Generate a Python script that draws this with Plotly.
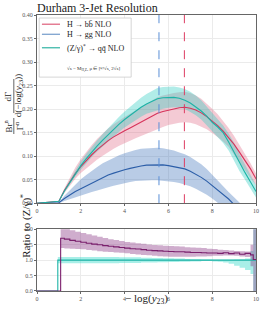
import plotly.graph_objects as go

# ---------------- data ----------------
x_top = [0.0, 1.0, 1.25, 1.5, 1.75, 2.0, 2.25, 2.5, 2.75, 3.0, 3.25, 3.5, 3.75, 4.0, 4.25,
         4.5, 4.75, 5.0, 5.25, 5.5, 5.75, 6.0, 6.25, 6.5, 6.75, 7.0, 7.25, 7.5, 7.75,
         8.0, 8.25, 8.5, 8.75, 9.0, 9.25, 9.5, 9.75, 10.0]

hbb_mid = [0.0, 0.004, 0.027, 0.046, 0.063, 0.078, 0.091, 0.103, 0.114, 0.124, 0.133, 0.141,
           0.148, 0.154, 0.160, 0.166, 0.172, 0.178, 0.185, 0.191, 0.195, 0.198, 0.201, 0.203,
           0.204, 0.202, 0.198, 0.192, 0.184, 0.175, 0.165, 0.153, 0.140, 0.125, 0.108, 0.091,
           0.073, 0.052]
hbb_hi = [0.0, 0.005, 0.032, 0.055, 0.076, 0.094, 0.110, 0.124, 0.137, 0.149, 0.159, 0.168,
          0.176, 0.183, 0.190, 0.197, 0.204, 0.211, 0.218, 0.225, 0.229, 0.232, 0.234, 0.236,
          0.237, 0.234, 0.229, 0.222, 0.212, 0.201, 0.189, 0.175, 0.160, 0.143, 0.124, 0.105,
          0.085, 0.063]
hbb_lo = [0.0, 0.003, 0.022, 0.038, 0.052, 0.064, 0.074, 0.084, 0.093, 0.101, 0.109, 0.116,
          0.122, 0.128, 0.133, 0.138, 0.143, 0.148, 0.153, 0.158, 0.162, 0.166, 0.169, 0.171,
          0.172, 0.171, 0.168, 0.163, 0.157, 0.149, 0.141, 0.131, 0.120, 0.103, 0.086, 0.070,
          0.053, 0.038]

hgg_mid = [0.0, 0.001, 0.010, 0.018, 0.025, 0.031, 0.037, 0.043, 0.049, 0.055, 0.060, 0.064,
           0.068, 0.071, 0.074, 0.077, 0.079, 0.081, 0.0815, 0.082, 0.0815, 0.080, 0.078, 0.076,
           0.073, 0.068, 0.062, 0.055, 0.047, 0.038, 0.029, 0.019, 0.009, -0.003, -0.015, -0.030,
           -0.045, -0.060]
hgg_hi = [0.0, 0.002, 0.016, 0.028, 0.040, 0.051, 0.060, 0.069, 0.077, 0.085, 0.091, 0.097,
          0.102, 0.106, 0.110, 0.113, 0.116, 0.117, 0.118, 0.118, 0.117, 0.115, 0.112, 0.108,
          0.104, 0.098, 0.091, 0.083, 0.073, 0.060, 0.048, 0.036, 0.024, 0.012, 0.002, -0.010,
          -0.020, -0.030]
hgg_lo = [0.0, 0.0, 0.005, 0.009, 0.013, 0.016, 0.020, 0.024, 0.027, 0.031, 0.034, 0.037,
          0.040, 0.043, 0.045, 0.047, 0.048, 0.049, 0.049, 0.049, 0.048, 0.047, 0.045, 0.043,
          0.040, 0.036, 0.031, 0.025, 0.018, 0.010, 0.002, -0.008, -0.020, -0.030, -0.040,
          -0.050, -0.060, -0.070]

zqq_mid = [0.0, 0.004, 0.026, 0.045, 0.064, 0.080, 0.095, 0.109, 0.122, 0.134, 0.146, 0.157,
           0.168, 0.178, 0.187, 0.196, 0.204, 0.211, 0.217, 0.222, 0.224, 0.225, 0.225, 0.223,
           0.219, 0.213, 0.205, 0.196, 0.185, 0.172, 0.162, 0.150, 0.130, 0.108, 0.085, 0.065,
           0.045, 0.025]
zqq_hi = [0.0, 0.005, 0.029, 0.050, 0.071, 0.089, 0.105, 0.120, 0.134, 0.147, 0.160, 0.172,
          0.184, 0.195, 0.205, 0.215, 0.224, 0.232, 0.239, 0.245, 0.247, 0.248, 0.248, 0.246,
          0.243, 0.237, 0.229, 0.219, 0.206, 0.192, 0.178, 0.165, 0.148, 0.128, 0.104, 0.083,
          0.062, 0.038]
zqq_lo = [0.0, 0.003, 0.023, 0.040, 0.057, 0.071, 0.085, 0.098, 0.110, 0.121, 0.132, 0.142,
          0.152, 0.161, 0.169, 0.177, 0.184, 0.190, 0.194, 0.198, 0.201, 0.203, 0.204, 0.203,
          0.200, 0.194, 0.187, 0.178, 0.166, 0.153, 0.141, 0.128, 0.112, 0.090, 0.068, 0.050,
          0.030, 0.012]

peak_x = [5.57, 6.73]           # Z peak (blue dashed), H->bb peak (red dashed)

# ratio panel
x_rat_hbb = [1.08, 1.25, 1.5, 1.75, 2.0, 2.25, 2.5, 2.75, 3.0, 3.25, 3.5, 3.75, 4.0, 4.25,
             4.5, 4.75, 5.0, 5.25, 5.5, 5.75, 6.0, 6.25, 6.5, 6.75, 7.0, 7.25, 7.5, 7.75,
             8.0, 8.25, 8.5, 8.75, 9.0, 9.25, 9.5, 9.75, 9.875, 10.0]
x_rat_z = [0.95, 1.25, 1.5, 1.75, 2.0, 2.25, 2.5, 2.75, 3.0, 3.25, 3.5, 3.75, 4.0, 4.25,
           4.5, 4.75, 5.0, 5.25, 5.5, 5.75, 6.0, 6.25, 6.5, 6.75, 7.0, 7.25, 7.5, 7.75,
           8.0, 8.25, 8.5, 8.75, 9.0, 9.25, 9.5, 9.75, 9.875, 10.0]
rat_hbb_mid = [1.71, 1.68, 1.64, 1.61, 1.58, 1.55, 1.52, 1.50, 1.47, 1.45, 1.43, 1.41, 1.39,
               1.37, 1.36, 1.34, 1.32, 1.31, 1.30, 1.29, 1.28, 1.27, 1.27, 1.26, 1.25, 1.25,
               1.24, 1.23, 1.23, 1.22, 1.24, 1.21, 1.23, 1.19, 1.22, 1.17, 1.02, 1.02]
rat_hbb_hi = [2.10, 2.03, 1.97, 1.92, 1.88, 1.84, 1.80, 1.76, 1.72, 1.68, 1.65, 1.62, 1.59,
              1.57, 1.55, 1.53, 1.51, 1.49, 1.48, 1.47, 1.46, 1.45, 1.44, 1.42, 1.41, 1.40,
              1.39, 1.37, 1.36, 1.34, 1.33, 1.31, 1.30, 1.29, 1.28, 1.50, 2.10, 2.10]
rat_hbb_lo = [1.39, 1.38, 1.37, 1.36, 1.35, 1.33, 1.31, 1.29, 1.27, 1.26, 1.25, 1.24, 1.22,
              1.20, 1.18, 1.17, 1.16, 1.14, 1.13, 1.12, 1.11, 1.11, 1.11, 1.11, 1.11, 1.12,
              1.12, 1.13, 1.14, 1.14, 1.15, 1.15, 1.14, 1.12, 1.10, 0.80, 0.00, 0.00]
rat_z_mid = [1.0] * 38
rat_z_hi = [1.10, 1.10, 1.10, 1.10, 1.10, 1.10, 1.10, 1.10, 1.10, 1.10, 1.10, 1.09, 1.09,
            1.09, 1.09, 1.08, 1.08, 1.07, 1.07, 1.06, 1.06, 1.05, 1.05, 1.04, 1.03, 1.03,
            1.02, 1.02, 1.01, 1.01, 1.01, 1.01, 1.02, 1.03, 1.05, 1.30, 2.10, 2.10]
rat_z_lo = [0.90, 0.90, 0.90, 0.90, 0.90, 0.90, 0.90, 0.90, 0.90, 0.90, 0.90, 0.91, 0.91,
            0.91, 0.91, 0.92, 0.92, 0.92, 0.93, 0.93, 0.94, 0.94, 0.95, 0.95, 0.96, 0.96,
            0.97, 0.97, 0.96, 0.95, 0.92, 0.88, 0.82, 0.75, 0.68, 0.55, 0.00, 0.00]

x_ticks = [0, 2, 4, 6, 8, 10]
labels = ["H → bb\u0304 NLO", "H → gg NLO", "(Z/γ)<sup>*</sup> → qq\u0304 NLO"]
note = "√s = M<sub>H,Z</sub>, μ ∈ [½√s, 2√s]"

# ---------------- styling ----------------
SERIF = "Liberation Serif"
RED, RED_F = "#d6335a", "rgba(222,90,120,0.32)"
BLUE, BLUE_F = "#2c5ea8", "rgba(70,120,190,0.38)"
TEAL, TEAL_F = "#1cb3a6", "rgba(50,205,195,0.38)"
PURP, PURP_F = "#7a1f6c", "rgba(140,60,135,0.42)"
TEAL_RF = "rgba(64,220,205,0.45)"

fig = go.Figure()


def band(x, lo, hi, fill, xa, ya, shape="linear"):
    fig.add_trace(go.Scatter(x=x, y=lo, mode="lines", line=dict(width=0, shape=shape),
                             xaxis=xa, yaxis=ya, showlegend=False, hoverinfo="skip"))
    fig.add_trace(go.Scatter(x=x, y=hi, mode="lines", line=dict(width=0, shape=shape),
                             fill="tonexty", fillcolor=fill, xaxis=xa, yaxis=ya,
                             showlegend=False, hoverinfo="skip"))


def line(x, y, color, xa, ya, shape="linear", width=1.1):
    fig.add_trace(go.Scatter(x=x, y=y, mode="lines", line=dict(color=color, width=width, shape=shape),
                             xaxis=xa, yaxis=ya, showlegend=False))


# top panel
band(x_top, hbb_lo, hbb_hi, RED_F, "x", "y")
band(x_top, hgg_lo, hgg_hi, BLUE_F, "x", "y")
band(x_top, zqq_lo, zqq_hi, TEAL_F, "x", "y")
line(x_top, hbb_mid, RED, "x", "y")
line(x_top, hgg_mid, BLUE, "x", "y")
line(x_top, zqq_mid, TEAL, "x", "y")
for px, c in zip(peak_x, ["#5a8fd6", "#dd3d62"]):
    fig.add_trace(go.Scatter(x=[px, px], y=[0, 0.4], mode="lines",
                             line=dict(color=c, width=1, dash="dash"),
                             xaxis="x", yaxis="y", showlegend=False))

# ratio panel
band(x_rat_z, rat_z_lo, rat_z_hi, TEAL_RF, "x2", "y2", "hv")
band(x_rat_hbb, rat_hbb_lo, rat_hbb_hi, PURP_F, "x2", "y2", "hv")
line([0.0] + x_rat_z, [0.0] + rat_z_mid, TEAL, "x2", "y2", "hv")
line([0.0, 0.95] + x_rat_hbb, [0.0, 0.0] + rat_hbb_mid, PURP, "x2", "y2", "hv")

axis_common = dict(showline=True, linecolor="#666666", linewidth=1, mirror=True,
                   showgrid=True, gridcolor="#ebebeb", gridwidth=1, zeroline=False,
                   ticks="outside", ticklen=2, tickcolor="#666666",
                   tickfont=dict(family=SERIF, size=6, color="#555555"))

fig.update_layout(
    width=266, height=318,
    margin=dict(l=37, r=7, t=15, b=27),
    paper_bgcolor="white", plot_bgcolor="white",
    font=dict(family=SERIF, color="#222222"),
    title=dict(text="Durham 3-Jet Resolution", font=dict(family=SERIF, size=12, color="#222222"),
               x=37 / 266, xanchor="left", y=1 - 8 / 318, yanchor="middle", xref="container",
               yref="container"),
    xaxis=dict(domain=[0, 1], range=[0, 10], tickvals=x_ticks, anchor="y", **axis_common),
    yaxis=dict(domain=[0.318, 1], range=[0, 0.40], dtick=0.05, tickformat=".2f", anchor="x",
               **axis_common),
    xaxis2=dict(domain=[0, 1], range=[0, 10], tickvals=x_ticks, anchor="y2", **axis_common),
    yaxis2=dict(domain=[0, 0.2236], range=[0, 2.0], dtick=0.5, tickformat=".1f", anchor="x2",
                **axis_common),
)

# legend (manual, compact)
fig.add_shape(type="rect", xref="x domain", yref="y domain", x0=0.01, x1=0.43, y0=0.67, y1=0.984,
              line=dict(color="#cccccc", width=0.8), fillcolor="white", layer="above")
leg_y = [0.951, 0.8975, 0.826]
leg_c = ["#e06a85", "#7ea3cf", "#3fb9aa"]
for yy, cc, lab in zip(leg_y, leg_c, labels):
    fig.add_shape(type="line", xref="x domain", yref="y domain", x0=0.0225, x1=0.105, y0=yy, y1=yy,
                  line=dict(color=cc, width=1.3), layer="above")
    fig.add_annotation(xref="x domain", yref="y domain", x=0.127, y=yy, text=lab, showarrow=False,
                       xanchor="left", yanchor="middle", font=dict(family=SERIF, size=8, color="#222222"))
fig.add_annotation(xref="x domain", yref="y domain", x=0.127, y=0.712, text=note, showarrow=False,
                   xanchor="left", yanchor="middle", font=dict(family=SERIF, size=5, color="#333333"))


def px_to_paper_x(px):
    return (px - 37) / 222.0


def py_to_paper_y(py):
    return (291 - py) / 276.0


# y-axis title of top panel: rotated fraction pieces
frac_parts = [("Br<sup>n</sup>", 8, 126), ("Γ<sup>n</sup>", 19, 126),
              ("dΓ", 8, 96), ("d(−log(<i>y</i><sub>23</sub>))", 19, 96)]
for txt, fx, fy in frac_parts:
    fig.add_annotation(xref="paper", yref="paper", x=px_to_paper_x(fx), y=py_to_paper_y(fy),
                       text=txt, textangle=-90, showarrow=False, xanchor="center", yanchor="middle",
                       font=dict(family=SERIF, size=9, color="#222222"))
for a, b in [(118, 134), (79, 113)]:
    fig.add_shape(type="line", xref="paper", yref="paper", x0=px_to_paper_x(13.5), x1=px_to_paper_x(13.5),
                  y0=py_to_paper_y(a), y1=py_to_paper_y(b), line=dict(color="#222222", width=0.7))

fig.add_annotation(xref="paper", yref="paper", x=px_to_paper_x(16), y=py_to_paper_y(260),
                   text="Ratio to (Z/γ)<sup>*</sup>", textangle=-90, showarrow=False,
                   font=dict(family=SERIF, size=11, color="#222222"))
fig.add_annotation(xref="paper", yref="paper", x=px_to_paper_x(148), y=py_to_paper_y(308),
                   text="− log(<i>y</i><sub>23</sub>)", showarrow=False,
                   font=dict(family=SERIF, size=11, color="#222222"))

fig.write_html("out.html", config={"displayModeBar": False},
               post_script="document.body.style.margin='0';document.body.style.overflow='hidden';")
